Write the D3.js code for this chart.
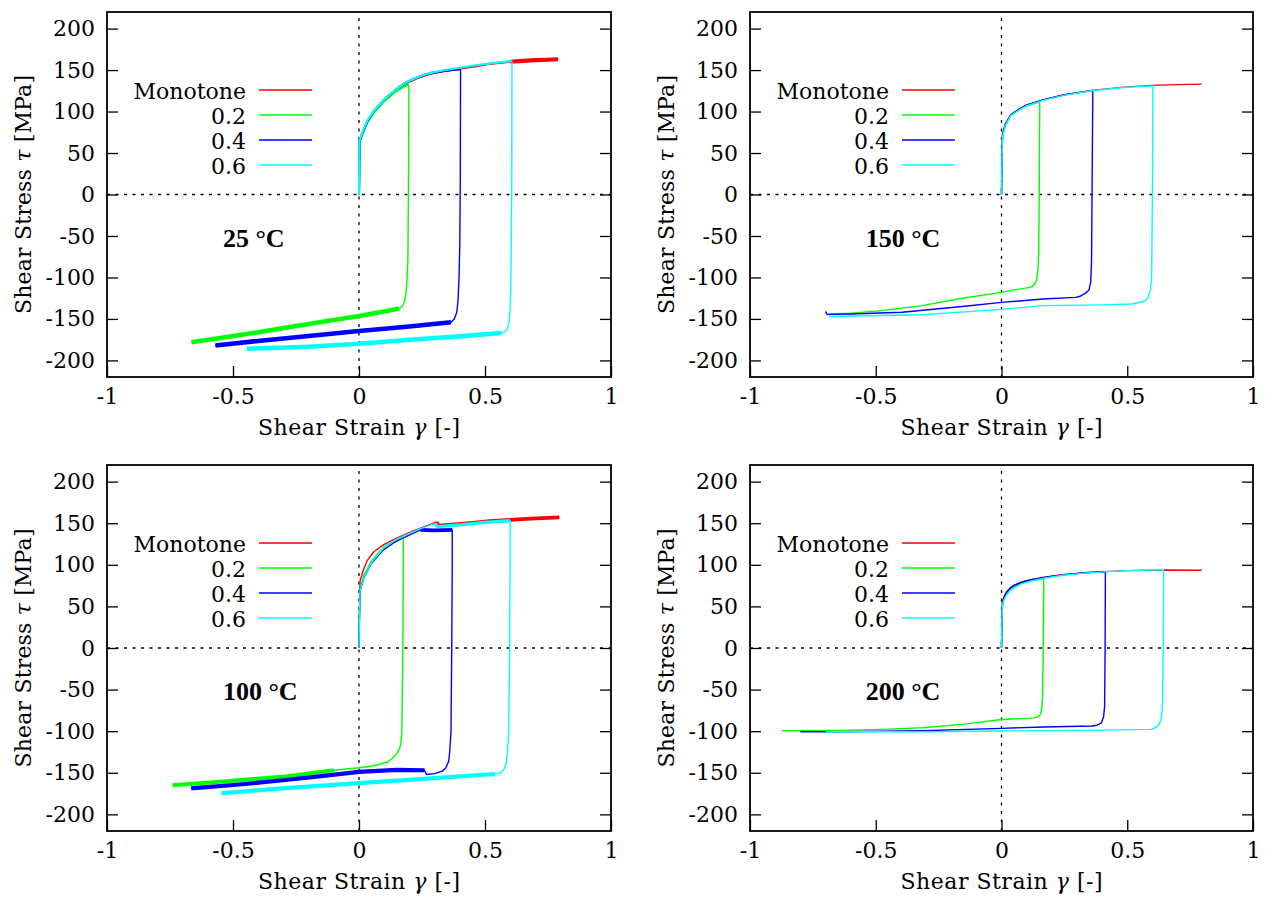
<!DOCTYPE html>
<html><head><meta charset="utf-8">
<script src="https://cdn.jsdelivr.net/npm/d3@7"></script>
<style>
body{margin:0;background:#fff}
svg text{fill:#000}
</style>
</head><body>
<svg id="c" width="1273" height="898"></svg>
<script>
// ---------- axes / labels ----------
const X_TICKS = [-1, -0.5, 0, 0.5, 1];
const X_TICK_LABELS = ["-1", "-0.5", "0", "0.5", "1"];
const Y_TICKS = [-200, -150, -100, -50, 0, 50, 100, 150, 200];
const Y_TICK_LABELS = ["-200", "-150", "-100", "-50", "0", "50", "100", "150", "200"];
const X_DOMAIN = [-1, 1];
const Y_DOMAIN = [-220, 220];
const SERIES_NAMES = ["Monotone", "0.2", "0.4", "0.6"];
const TEMPERATURES = ["25 °C", "150 °C", "100 °C", "200 °C"];
const TEMP_LABEL_POS = [-0.54, -52];   // data coords of the temperature label

// ---------- 25 °C ----------
const T25_MONO_UP = [[0,0],[0.001,30],[0.002,65],[0.015,75],[0.033,88],[0.06,100],[0.098,113],[0.14,124],[0.179,133],[0.23,140],[0.276,145],[0.34,149],[0.407,152],[0.47,155],[0.52,157.5],[0.6,160]];
const T25_MONO_TAIL = [[0.6,160],[0.65,161],[0.7,162],[0.75,162.5],[0.79,163]];
const T25_S02_UP = [[0,0],[0.001,30],[0.002,63],[0.015,74],[0.033,87],[0.06,99],[0.098,112],[0.14,123],[0.195,133]];
const T25_S02_DOWN = [[0.195,133],[0.198,130],[0.197,60],[0.196,0],[0.194,-80],[0.19,-105],[0.186,-120],[0.18,-129],[0.172,-135],[0.16,-137.5]];
const T25_S02_LOW = [[0.16,-137.5],[0.1,-141],[0,-146.5],[-0.2,-156],[-0.4,-166],[-0.55,-173],[-0.665,-178]];
const T25_S04_UP = [[0,0],[0.001,30],[0.002,64],[0.015,75],[0.033,88],[0.06,101],[0.098,114],[0.14,125],[0.179,134],[0.23,141],[0.276,146],[0.34,149],[0.4,151]];
const T25_S04_DOWN = [[0.4,151],[0.403,149],[0.402,20],[0.4,-60],[0.397,-100],[0.393,-128],[0.388,-142],[0.378,-150],[0.365,-154]];
const T25_S04_LOW = [[0.365,-154],[0.2,-159],[0,-164.5],[-0.2,-170.5],[-0.4,-176.5],[-0.57,-182]];
const T25_S06_UP = [[0,0],[0.001,30],[0.002,65],[0.015,76],[0.033,89],[0.06,101],[0.098,114],[0.14,125],[0.179,134],[0.23,141],[0.276,146],[0.34,150],[0.407,153],[0.47,156],[0.52,158],[0.605,161]];
const T25_S06_DOWN = [[0.605,161],[0.607,160],[0.606,0],[0.603,-100],[0.6,-135],[0.596,-152],[0.59,-161],[0.58,-165],[0.565,-167]];
const T25_S06_LOW = [[0.565,-167],[0.4,-171],[0.2,-175],[0,-180],[-0.2,-183.5],[-0.445,-186]];

// ---------- 150 °C ----------
const T150_MONO_UP = [[0,0],[0.002,40],[0.004,71],[0.015,84],[0.037,96],[0.07,103],[0.101,108],[0.165,114],[0.246,120],[0.358,125.5],[0.486,129.5],[0.6,131.5],[0.7,132.5],[0.796,133]];
const T150_S02_UP = [[0,0],[0.002,40],[0.004,70],[0.015,83],[0.037,95],[0.07,102],[0.101,107],[0.15,111.5]];
const T150_S02_DOWN = [[0.15,111.5],[0.152,110],[0.15,0],[0.148,-70],[0.145,-90],[0.14,-103],[0.13,-109],[0.115,-112]];
const T150_S02_LOW = [[0.115,-112],[0.05,-115],[0,-118],[-0.156,-125],[-0.316,-134],[-0.477,-140],[-0.6,-143],[-0.685,-144]];
const T150_S04_UP = [[0,0],[0.002,40],[0.004,72],[0.015,85],[0.037,96],[0.07,103],[0.101,108],[0.165,114],[0.246,120],[0.362,125.5]];
const T150_S04_DOWN = [[0.362,125.5],[0.363,120],[0.36,0],[0.358,-80],[0.355,-105],[0.348,-115],[0.334,-119],[0.31,-123],[0.294,-124]];
const T150_S04_LOW = [[0.294,-124],[0.165,-126],[0,-130],[-0.156,-135],[-0.396,-142],[-0.6,-144],[-0.693,-144.5],[-0.7,-141]];
const T150_S06_UP = [[0,0],[0.002,40],[0.004,70],[0.015,83],[0.037,95],[0.07,102],[0.101,107],[0.165,113.5],[0.246,119.5],[0.358,125],[0.486,129],[0.602,131]];
const T150_S06_DOWN = [[0.602,131],[0.6,0],[0.597,-100],[0.592,-115],[0.582,-125],[0.567,-129],[0.518,-132]];
const T150_S06_LOW = [[0.518,-132],[0.4,-133],[0.165,-134],[0,-138.5],[-0.316,-145],[-0.685,-147]];

// ---------- 100 °C ----------
const T100_MONO_UP = [[0,0],[0.002,50],[0.004,80],[0.015,92],[0.032,105],[0.06,116],[0.097,124],[0.14,131],[0.179,136],[0.22,141.5],[0.26,146],[0.308,151.5]];
const T100_MONO_UPN = [[0.308,151.5],[0.315,147],[0.357,148],[0.45,150.5],[0.519,152.5],[0.6,154],[0.682,155.5],[0.795,157]];
const T100_S02_UP = [[0,0],[0.002,45],[0.004,70],[0.02,88],[0.05,105],[0.097,121],[0.14,129],[0.175,134]];
const T100_S02_DOWN = [[0.175,134],[0.176,130],[0.174,0],[0.17,-100],[0.166,-115],[0.16,-122],[0.15,-127],[0.135,-132],[0.114,-137],[0.06,-141.5],[0,-144],[-0.1,-147]];
const T100_S02_LOWN = [[-0.1,-147],[-0.292,-154.5],[-0.536,-160.5],[-0.74,-165]];
const T100_S04_UP = [[0,0],[0.002,40],[0.004,68],[0.02,85],[0.05,102],[0.097,118],[0.14,127],[0.18,133],[0.244,142]];
const T100_S04_UPN = [[0.244,142],[0.3,141.5],[0.37,142]];
const T100_S04_DOWN = [[0.37,142],[0.37,100],[0.368,0],[0.365,-100],[0.36,-125],[0.356,-136],[0.345,-144],[0.33,-148],[0.3,-151],[0.268,-152]];
const T100_S04_LOWN = [[0.26,-147],[0.15,-146.5],[0,-149],[-0.15,-154],[-0.292,-158.7],[-0.45,-163.5],[-0.666,-168.7]];
const T100_S06_UP = [[0,0],[0.002,40],[0.004,68],[0.02,85],[0.05,103],[0.097,120],[0.14,129],[0.18,135],[0.244,143.5],[0.3,149.5]];
const T100_S06_UPN = [[0.3,149.5],[0.315,146],[0.4,148],[0.5,151],[0.6,153]];
const T100_S06_DOWN = [[0.6,153],[0.598,0],[0.594,-100],[0.589,-125],[0.584,-139],[0.575,-146],[0.562,-150],[0.54,-151.5]];
const T100_S06_LOWN = [[0.54,-151.5],[0.3,-156.5],[0,-162.5],[-0.292,-168.5],[-0.545,-174.5]];

// ---------- 200 °C ----------
const T200_MONO_UP = [[0,0],[0.002,35],[0.004,56],[0.01,62],[0.021,68],[0.035,72.5],[0.053,76],[0.08,79.5],[0.117,82],[0.18,85.5],[0.246,88],[0.33,90.3],[0.406,91.8],[0.5,93],[0.647,93.8],[0.796,93.5]];
const T200_S02_UP = [[0,0],[0.002,35],[0.004,54],[0.01,60],[0.021,66],[0.035,71],[0.053,74.5],[0.08,78],[0.117,81],[0.165,83]];
const T200_S02_DOWN = [[0.165,83],[0.168,82],[0.166,0],[0.163,-60],[0.16,-72],[0.156,-79],[0.148,-82.5],[0.13,-84]];
const T200_S02_LOW = [[0.13,-84],[0.101,-84.6],[0,-86],[-0.156,-91.8],[-0.316,-95.8],[-0.475,-97.8],[-0.65,-99],[-0.873,-99.4]];
const T200_S04_UP = [[0,0],[0.002,35],[0.004,55],[0.01,61],[0.021,67],[0.035,72],[0.053,75.5],[0.08,79],[0.117,82],[0.18,85.5],[0.246,88],[0.33,90.5],[0.41,92]];
const T200_S04_DOWN = [[0.41,92],[0.413,91],[0.412,0],[0.41,-70],[0.406,-82.6],[0.397,-90],[0.38,-92.8],[0.36,-93.8]];
const T200_S04_LOW = [[0.36,-93.8],[0.165,-95],[0,-96.6],[-0.316,-99.4],[-0.636,-100.6],[-0.8,-100.6]];
const T200_S06_UP = [[0,0],[0.002,35],[0.004,52],[0.01,58],[0.021,64],[0.035,69],[0.053,73],[0.08,77],[0.117,80.5],[0.18,84.5],[0.246,87.5],[0.33,90],[0.406,91.5],[0.5,93],[0.644,94]];
const T200_S06_DOWN = [[0.644,94],[0.645,90],[0.643,0],[0.64,-70],[0.636,-83],[0.628,-91],[0.615,-95.5],[0.595,-97.8]];
const T200_S06_LOW = [[0.595,-97.8],[0.326,-99],[0,-99.8],[-0.316,-100.6],[-0.7,-100.6]];

// scatter band width (MPa) of each piece, 0 = smooth signal
const BANDS_25  = [[2.5, 5], [2.5, 0, 5.5], [2.5, 0, 5.5], [2.5, 0, 5.5]];
const BANDS_150 = [[0], [0, 0, 0], [0, 0, 0], [0, 0, 0]];
const BANDS_100 = [[0, 4.5], [0, 0, 5], [0, 4.5, 0, 5], [0, 4, 0, 5]];
const BANDS_200 = [[0], [0, 0, 0], [0, 0, 0], [0, 0, 0]];

// ---------- drawing ----------
const COLORS = ["#ff0000", "#00ff00", "#0000ff", "#00ffff"];
const FONT = '"DejaVu Serif", serif';
const FONT_B = '"Liberation Serif", "DejaVu Serif", serif';
const PANELS = [
  {box:[107,611,12,377],  temp:TEMPERATURES[0], bands:BANDS_25,
   series:[[T25_MONO_UP,T25_MONO_TAIL],[T25_S02_UP,T25_S02_DOWN,T25_S02_LOW],[T25_S04_UP,T25_S04_DOWN,T25_S04_LOW],[T25_S06_UP,T25_S06_DOWN,T25_S06_LOW]]},
  {box:[750,1253,12,377], temp:TEMPERATURES[1], bands:BANDS_150,
   series:[[T150_MONO_UP],[T150_S02_UP,T150_S02_DOWN,T150_S02_LOW],[T150_S04_UP,T150_S04_DOWN,T150_S04_LOW],[T150_S06_UP,T150_S06_DOWN,T150_S06_LOW]]},
  {box:[107,611,465,831], temp:TEMPERATURES[2], bands:BANDS_100,
   series:[[T100_MONO_UP,T100_MONO_UPN],[T100_S02_UP,T100_S02_DOWN,T100_S02_LOWN],[T100_S04_UP,T100_S04_UPN,T100_S04_DOWN,T100_S04_LOWN],[T100_S06_UP,T100_S06_UPN,T100_S06_DOWN,T100_S06_LOWN]]},
  {box:[750,1253,465,831], temp:TEMPERATURES[3], bands:BANDS_200,
   series:[[T200_MONO_UP],[T200_S02_UP,T200_S02_DOWN,T200_S02_LOW],[T200_S04_UP,T200_S04_DOWN,T200_S04_LOW],[T200_S06_UP,T200_S06_DOWN,T200_S06_LOW]]}
];

const svg = d3.select("#c");
const FS = 22;

PANELS.forEach(p => {
  const [x0, x1, y0, y1] = p.box;
  const x = d3.scaleLinear().domain(X_DOMAIN).range([x0, x1]);
  const y = d3.scaleLinear().domain(Y_DOMAIN).range([y1, y0]);
  const g = svg.append("g");

  // zero lines
  g.append("line").attr("x1", x(-1)).attr("x2", x(1)).attr("y1", y(0)).attr("y2", y(0))
    .attr("stroke", "#000").attr("stroke-width", 1.3).attr("stroke-dasharray", "3,5.5");
  g.append("line").attr("x1", x(0)).attr("x2", x(0)).attr("y1", y0 + 6).attr("y2", y1)
    .attr("stroke", "#000").attr("stroke-width", 1.3).attr("stroke-dasharray", "3,5.5");

  // axes
  const ax = g.append("g").attr("transform", `translate(0,${y1})`)
    .call(d3.axisBottom(x).tickValues(X_TICKS).tickSize(-11).tickPadding(11)
      .tickFormat((d, i) => X_TICK_LABELS[i]));
  const ayl = g.append("g").attr("transform", `translate(${x0},0)`)
    .call(d3.axisLeft(y).tickValues(Y_TICKS).tickSize(-11).tickPadding(12)
      .tickFormat((d, i) => Y_TICK_LABELS[i]));
  const ayr = g.append("g").attr("transform", `translate(${x1},0)`)
    .call(d3.axisRight(y).tickValues(Y_TICKS).tickSize(-11).tickFormat(""));
  [ax, ayl, ayr].forEach(a => {
    a.select(".domain").remove();
    a.attr("font-family", FONT).attr("font-size", FS);
    a.selectAll("line").attr("stroke", "#000").attr("stroke-width", 1.3);
    a.selectAll("text").attr("fill", "#000");
  });

  // curves
  const line = d3.line().x(d => x(d[0])).y(d => y(d[1]));
  const pxPerMPa = Math.abs(y(1) - y(0));
  p.series.forEach((pieces, si) => {
    const all = pieces.flat();
    g.append("path").attr("d", line(all)).attr("fill", "none")
      .attr("stroke", COLORS[si]).attr("stroke-width", 1.4).attr("stroke-linejoin", "round");
    pieces.forEach((pc, pi) => {
      const b = p.bands[si][pi] || 0;
      if (b > 0) {
        g.append("path").attr("d", line(pc)).attr("fill", "none")
          .attr("stroke", COLORS[si]).attr("stroke-width", b * pxPerMPa)
          .attr("stroke-linejoin", "round");
      }
    });
  });

  // frame
  g.append("rect").attr("x", x0).attr("y", y0).attr("width", x1 - x0).attr("height", y1 - y0)
    .attr("fill", "none").attr("stroke", "#000").attr("stroke-width", 1.8);

  // legend
  SERIES_NAMES.forEach((n, i) => {
    const ry = y0 + 78 + 25 * i;
    g.append("text").attr("x", x0 + 139).attr("y", ry + 8.5).attr("text-anchor", "end")
      .attr("font-family", FONT).attr("font-size", FS).text(n);
    g.append("line").attr("x1", x0 + 152).attr("x2", x0 + 205).attr("y1", ry).attr("y2", ry)
      .attr("stroke", COLORS[i]).attr("stroke-width", 1.5);
  });

  // temperature label
  g.append("text").attr("x", x(TEMP_LABEL_POS[0])).attr("y", y(TEMP_LABEL_POS[1]))
    .attr("dy", "0.35em").attr("font-family", FONT_B).attr("font-size", 26)
    .attr("font-weight", "bold").text(p.temp);

  // axis titles
  const xt = g.append("text").attr("x", (x0 + x1) / 2).attr("y", y1 + 58)
    .attr("text-anchor", "middle").attr("font-family", FONT).attr("font-size", FS)
    .attr("textLength", 202).attr("lengthAdjust", "spacing");
  xt.append("tspan").text("Shear Strain ");
  xt.append("tspan").attr("font-style", "italic").text("γ");
  xt.append("tspan").text(" [-]");

  const yt = g.append("text")
    .attr("transform", `translate(${x0 - 76},${(y0 + y1) / 2}) rotate(-90)`)
    .attr("text-anchor", "middle").attr("font-family", FONT).attr("font-size", FS)
    .attr("textLength", 239).attr("lengthAdjust", "spacing");
  yt.append("tspan").text("Shear Stress ");
  yt.append("tspan").attr("font-style", "italic").text("τ");
  yt.append("tspan").text(" [MPa]");
});
</script>
</body></html>
